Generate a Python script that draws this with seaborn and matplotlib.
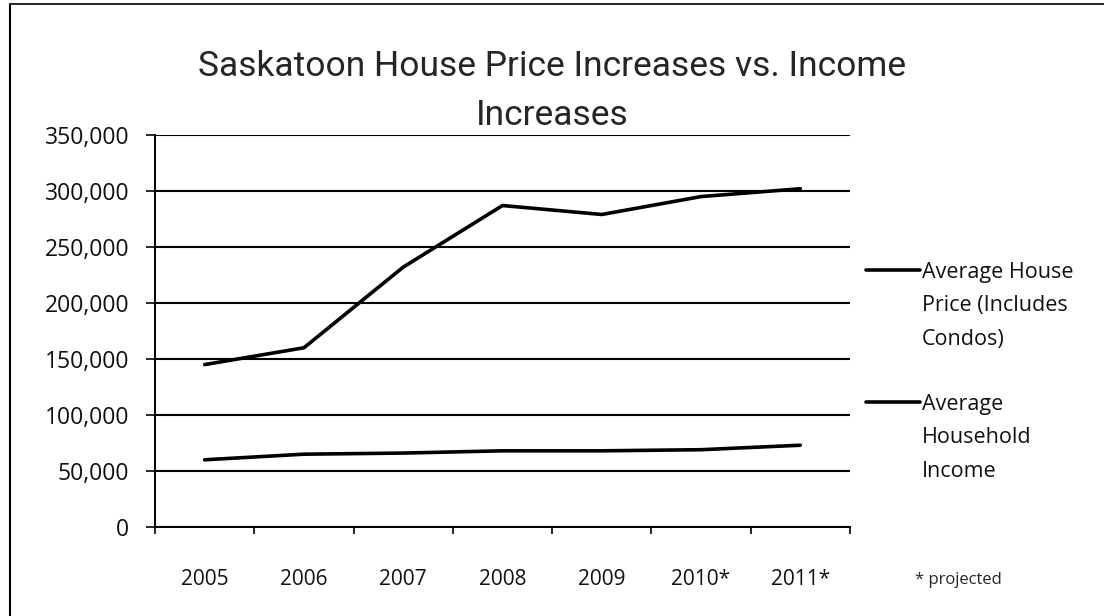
import numpy as np
import pandas as pd
import matplotlib
matplotlib.use("Agg")
import matplotlib.pyplot as plt
import seaborn as sns
from matplotlib.ticker import FuncFormatter, FixedLocator

# values
years = ['2005', '2006', '2007', '2008', '2009', '2010*', '2011*']
house_price = [145000, 160000, 232000, 287000, 279000, 295000, 302000]
household_income = [60000, 65000, 66000, 68000, 68000, 69000, 73000]
series_names = ['Average House\nPrice (Includes\nCondos)', 'Average\nHousehold\nIncome']

df = pd.DataFrame({
    'year': years * 2,
    'value': house_price + household_income,
    'series': [series_names[0]] * len(years) + [series_names[1]] * len(years),
})
df['x'] = df['year'].map({y: i for i, y in enumerate(years)})

sns.set_style('white')
plt.rcParams['font.family'] = ['Open Sans', 'DejaVu Sans']

fig = plt.figure(figsize=(11.04, 6.16), dpi=100)
ax = fig.add_axes([0.1404, 0.1445, 0.6295, 0.6364])

sns.lineplot(data=df, x='x', y='value', hue='series',
             palette=['black', 'black'], linewidth=2.6, ax=ax, legend=False)

# --- axes format
ax.set_xlim(-0.5, 6.5)
ax.set_ylim(0, 350000)
ax.set_yticks(np.arange(0, 350001, 50000))
ax.yaxis.set_major_formatter(FuncFormatter(lambda v, p: '{:,.0f}'.format(v)))
ax.set_xticks(range(len(years)))
ax.set_xticklabels(years)
ax.xaxis.set_minor_locator(FixedLocator(np.arange(-0.5, 7, 1)))
ax.grid(axis='y', color='black', linewidth=1.5)
ax.set_axisbelow(True)
ax.set_xlabel('')
ax.set_ylabel('')
sns.despine(ax=ax, top=True, right=True)
for s in ['left', 'bottom']:
    ax.spines[s].set_color('black')
    ax.spines[s].set_linewidth(1.4)
ax.tick_params(axis='y', left=True, length=6.5, width=1.2, color='black',
               pad=12, labelsize=16.5, labelcolor='#111111')
ax.tick_params(axis='x', which='major', bottom=False, length=0, pad=30,
               labelsize=15, labelcolor='#111111')
ax.tick_params(axis='x', which='minor', bottom=True, length=5, width=1.2, color='black')

# --- legend (handle beside the first line of each label, like Excel)
legend_y = [0.6556, 0.3189]
for name, ly in zip(series_names, legend_y):
    ax.plot([1.023, 1.1007], [ly, ly], color='black', linewidth=2.6,
            transform=ax.transAxes, clip_on=False)
    ax.text(1.1036, ly - 0.069, name, transform=ax.transAxes, ha='left',
            va='center_baseline', fontsize=15.5, linespacing=1.78, color='#111111')

# --- title and note
title_font = ['Liberation Sans Narrow', 'Roboto', 'DejaVu Sans']
fig.text(0.5, 0.892, 'Saskatoon House Price Increases vs. Income',
         ha='center', va='center', fontsize=25.5, family=title_font)
fig.text(0.5, 0.813, 'Increases', ha='center', va='center', fontsize=25.5,
         family=title_font)
fig.text(0.868, 0.058, '* projected', ha='center', va='center', fontsize=12)

# outer frame of the scanned chart
fig.add_artist(plt.Line2D([0.0095, 0.0095], [0, 0.994], color='black', linewidth=1.5,
                          transform=fig.transFigure))
fig.add_artist(plt.Line2D([0.0095, 1], [0.994, 0.994], color='black', linewidth=1.2,
                          transform=fig.transFigure))

plt.savefig('out.png', dpi=100)
